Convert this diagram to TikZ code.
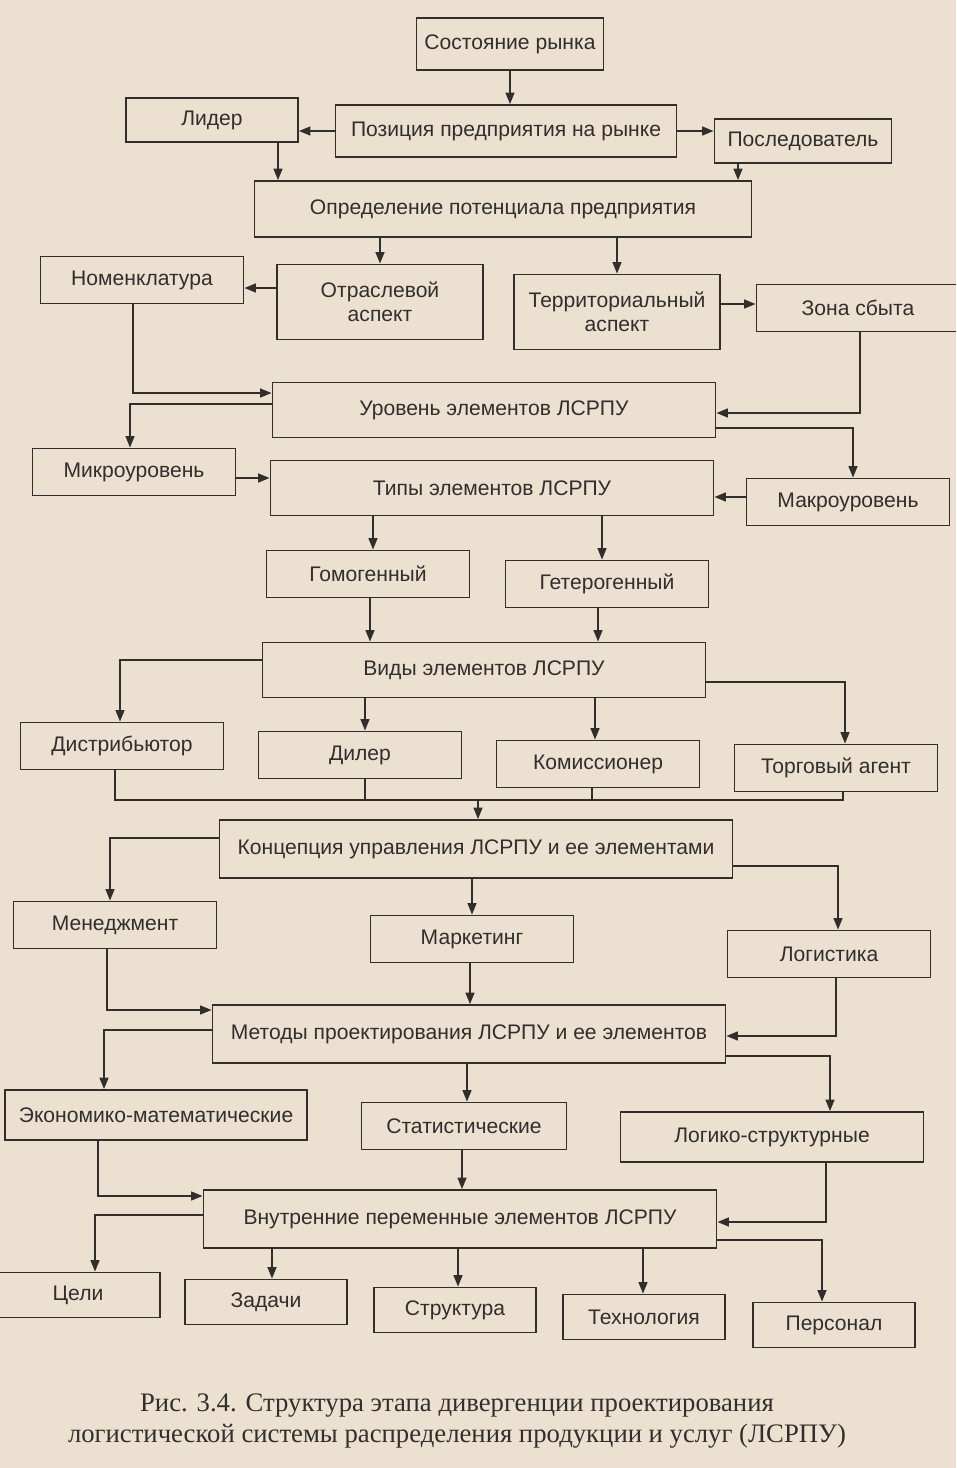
\documentclass[tikz,border=0pt]{standalone}
\usepackage{fontspec}
\setmainfont{Liberation Serif}
\setsansfont{Liberation Sans}
\usetikzlibrary{arrows.meta}

\definecolor{bumaga}{RGB}{236,225,208}
\definecolor{kraska}{RGB}{50,46,44}

\tikzset{
  blok/.style={draw=kraska, line width=1pt, text=kraska, align=center,
    font=\sffamily\fontsize{12}{13.5}\selectfont, inner sep=2pt},
  uzk/.style={blok, minimum width=40.6mm, minimum height=9.4mm},
  shir/.style={blok, minimum width=88.6mm, minimum height=11mm},
  oshir/.style={blok, minimum width=102.6mm, minimum height=11.6mm},
  niz/.style={blok, minimum width=32.4mm, minimum height=9mm},
  svyaz/.style={draw=kraska, line width=1pt},
}

\begin{document}
\begin{tikzpicture}[x=0.2mm, y=-0.2mm, >={Triangle[length=6.5pt,width=5pt]}]

    \fill[bumaga] (0,0) rectangle (956,1468);
    \useasboundingbox (0,0) rectangle (956,1468);
    \clip (0,0) rectangle (956,1468);

    \node[blok, minimum width=37.4mm, minimum height=10.4mm] (sost) at (510,44)
        {Состояние рынка};

    \node[blok, minimum width=34.4mm, minimum height=8.8mm] (lider) at (212,120)
        {Лидер};

    \node[blok, minimum width=68.2mm, minimum height=10.4mm] (poz) at (506,131)
        {Позиция предприятия на рынке};

    \node[blok, minimum width=35.4mm, minimum height=8.8mm] (posl) at (803,141)
        {Последователь};

    \node[blok, minimum width=99.4mm, minimum height=11.2mm] (opr) at (503,209)
        {Определение потенциала предприятия};

    \node[uzk] (nom) at (142,280)
        {Номенклатура};

    \node[blok, minimum width=41.2mm, minimum height=15mm] (otr) at (380,302)
        {Отраслевой\\аспект};

    \node[blok, minimum width=41.2mm, minimum height=15mm] (terr) at (617,312)
        {Территориальный\\аспект};

    \node[uzk] (zona) at (858,308)
        {Зона сбыта};

    \node[shir] (ur) at (494,410)
        {Уровень элементов ЛСРПУ};

    \node[uzk] (mikro) at (134,472)
        {Микроуровень};

    \node[shir] (tipy) at (492,488)
        {Типы элементов ЛСРПУ};

    \node[uzk] (makro) at (848,502)
        {Макроуровень};

    \node[uzk] (gomo) at (368,574)
        {Гомогенный};

    \node[uzk] (getero) at (607,584)
        {Гетерогенный};

    \node[shir] (vidy) at (484,670)
        {Виды элементов ЛСРПУ};

    \node[uzk] (distr) at (122,746)
        {Дистрибьютор};

    \node[uzk] (dil) at (360,755)
        {Дилер};

    \node[uzk] (kom) at (598,764)
        {Комиссионер};

    \node[uzk] (torg) at (836,768)
        {Торговый агент};

    \coordinate (shina) at (478,800);

    \node[oshir] (konc) at (476,849)
        {Концепция управления ЛСРПУ и ее элементами};

    \node[uzk] (men) at (115,925)
        {Менеджмент};

    \node[uzk] (mark) at (472,939)
        {Маркетинг};

    \node[uzk] (log) at (829,954)
        {Логистика};

    \node[oshir] (met) at (469,1034)
        {Методы проектирования ЛСРПУ и ее элементов};

    \node[blok, minimum width=60.4mm, minimum height=10mm] (ekon) at (156,1115)
        {Экономико-математические};

    \node[uzk, minimum width=41mm] (stat) at (464,1126)
        {Статистические};

    \node[blok, minimum width=60.6mm, minimum height=10mm] (logstr) at (772,1137)
        {Логико-структурные};

    \node[oshir] (vn) at (460,1219)
        {Внутренние переменные элементов ЛСРПУ};

    \node[niz, minimum width=32.8mm] (celi) at (78,1295)
        {Цели};

    \node[niz] (zad) at (266,1302)
        {Задачи};

    \node[niz] (str) at (455,1310)
        {Структура};

    \node[niz] (tekh) at (644,1317)
        {Технология};

    \node[niz] (pers) at (834,1325)
        {Персонал};

    \node[text=kraska, align=center, font=\fontsize{15.2}{17.5}\selectfont] (podpis) at (457,1421)
        {Рис. 3.4. Структура этапа дивергенции проектирования\\
         логистической системы распределения продукции и услуг (ЛСРПУ)};

    \draw[svyaz,->] (sost.south) -- (sost.south |- poz.north);
    \draw[svyaz,->] (poz.west) -- (poz.west -| lider.east);
    \draw[svyaz,->] (poz.east) -- (poz.east -| posl.west);

    \draw[svyaz,->] (lider.south -| 278,0) -- (opr.north -| 278,0);
    \draw[svyaz,->] (posl.south -| 738,0) -- (opr.north -| 738,0);

    \draw[svyaz,->] (opr.south -| 380,0) -- (otr.north -| 380,0);
    \draw[svyaz,->] (opr.south -| 617,0) -- (terr.north -| 617,0);
    \draw[svyaz,->] (otr.west |- 0,288) -- (nom.east |- 0,288);
    \draw[svyaz,->] (terr.east |- 0,304) -- (zona.west |- 0,304);

    \draw[svyaz,->] (nom.south -| 133,0) |- (ur.west |- 0,393);
    \draw[svyaz,->] (zona.south -| 860,0) |- (ur.east |- 0,413);
    \draw[svyaz,->] (ur.west |- 0,404) -| (mikro.north -| 130,0);
    \draw[svyaz,->] (ur.east |- 0,428) -| (makro.north -| 853,0);

    \draw[svyaz,->] (mikro.east |- 0,478) -- (tipy.west |- 0,478);
    \draw[svyaz,->] (makro.west |- 0,497) -- (tipy.east |- 0,497);

    \draw[svyaz,->] (tipy.south -| 373,0) -- (gomo.north -| 373,0);
    \draw[svyaz,->] (tipy.south -| 602,0) -- (getero.north -| 602,0);
    \draw[svyaz,->] (gomo.south -| 370,0) -- (vidy.north -| 370,0);
    \draw[svyaz,->] (getero.south -| 598,0) -- (vidy.north -| 598,0);

    \draw[svyaz,->] (vidy.west |- 0,660) -| (distr.north -| 120,0);
    \draw[svyaz,->] (vidy.south -| 365,0) -- (dil.north -| 365,0);
    \draw[svyaz,->] (vidy.south -| 595,0) -- (kom.north -| 595,0);
    \draw[svyaz,->] (vidy.east |- 0,682) -| (torg.north -| 845,0);

    \draw[svyaz] (distr.south -| 115,0) |- (shina) -| (torg.south -| 843,0);
    \draw[svyaz] (dil.south -| 365,0) -- (365,0 |- shina);
    \draw[svyaz] (kom.south -| 592,0) -- (592,0 |- shina);
    \draw[svyaz,->] (shina) -- (shina |- konc.north);

    \draw[svyaz,->] (konc.west |- 0,838) -| (men.north -| 110,0);
    \draw[svyaz,->] (konc.south -| 472,0) -- (mark.north -| 472,0);
    \draw[svyaz,->] (konc.east |- 0,866) -| (log.north -| 838,0);

    \draw[svyaz,->] (men.south -| 107,0) |- (met.west |- 0,1010);
    \draw[svyaz,->] (mark.south -| 470,0) -- (met.north -| 470,0);
    \draw[svyaz,->] (log.south -| 836,0) |- (met.east |- 0,1036);

    \draw[svyaz,->] (met.west |- 0,1030) -| (ekon.north -| 104,0);
    \draw[svyaz,->] (met.south -| 467,0) -- (stat.north -| 467,0);
    \draw[svyaz,->] (met.east |- 0,1056) -| (logstr.north -| 830,0);

    \draw[svyaz,->] (ekon.south -| 98,0) |- (vn.west |- 0,1196);
    \draw[svyaz,->] (stat.south -| 462,0) -- (vn.north -| 462,0);
    \draw[svyaz,->] (logstr.south -| 826,0) |- (vn.east |- 0,1222);

    \draw[svyaz,->] (vn.west |- 0,1215) -| (celi.north -| 95,0);
    \draw[svyaz,->] (vn.south -| 272,0) -- (zad.north -| 272,0);
    \draw[svyaz,->] (vn.south -| 458,0) -- (str.north -| 458,0);
    \draw[svyaz,->] (vn.south -| 643,0) -- (tekh.north -| 643,0);
    \draw[svyaz,->] (vn.east |- 0,1240) -| (pers.north -| 822,0);

\end{tikzpicture}
\end{document}
